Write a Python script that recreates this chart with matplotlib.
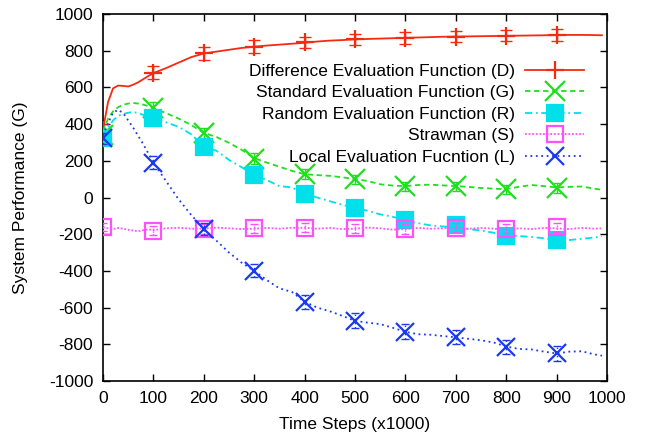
import matplotlib
matplotlib.use("Agg")
import matplotlib.pyplot as plt
import numpy as np

plt.rcParams['font.family'] = ['Liberation Sans', 'DejaVu Sans']
plt.rcParams['axes.unicode_minus'] = False

# ---- data ----
x_line = [0, 10, 20, 30, 40, 50, 60, 70, 80, 90, 100,
          125, 150, 175, 200, 225, 250, 275, 300, 325, 350, 375, 400, 425, 450, 475,
          500, 525, 550, 575, 600, 625, 650, 675, 700, 725, 750, 775, 800, 825, 850,
          875, 900, 925, 950, 975, 990]

d_line = [370, 520, 595, 610, 608, 605, 615, 628, 645, 662, 678,
          705, 735, 765, 785, 795, 805, 815, 822, 828, 833, 838, 843, 850, 855, 858,
          862, 864, 866, 868, 870, 872, 874, 876, 877, 878, 879, 880, 881, 882, 883,
          884, 885, 886, 886, 885, 884]
g_line = [360, 430, 470, 492, 505, 512, 515, 512, 506, 498, 488,
          460, 430, 395, 352, 330, 298, 260, 215, 190, 168, 145, 127, 122, 118, 110,
          100, 90, 72, 65, 62, 68, 70, 66, 62, 58, 52, 48, 45, 58, 68,
          62, 55, 58, 60, 48, 42]
r_line = [330, 380, 420, 445, 455, 462, 466, 460, 450, 442, 433,
          410, 385, 345, 278, 255, 205, 165, 122, 95, 62, 55, 20, 0, -20, -40,
          -55, -72, -92, -105, -125, -140, -152, -158, -162, -172, -180, -192, -205, -210, -215,
          -222, -230, -232, -225, -218, -212]
s_line = [-162, -168, -172, -166, -170, -176, -180, -184, -178, -174, -178,
          -168, -165, -170, -170, -164, -168, -172, -170, -166, -170, -165, -165, -170, -166, -172,
          -170, -164, -168, -175, -172, -166, -170, -168, -165, -170, -166, -170, -175, -168, -172,
          -166, -168, -172, -166, -170, -168]
l_line = [340, 405, 462, 478, 460, 420, 380, 335, 290, 240, 190,
          90, -10, -95, -172, -235, -300, -355, -400, -450, -495, -515, -568, -600, -620, -645,
          -672, -682, -690, -710, -732, -745, -748, -755, -762, -770, -778, -790, -812, -825, -828,
          -840, -850, -840, -838, -855, -862]

x_mark = [0, 100, 200, 300, 400, 500, 600, 700, 800, 900]
d_mark = [370, 680, 785, 822, 845, 862, 870, 877, 881, 886]
g_mark = [340, 490, 350, 210, 128, 100, 62, 62, 44, 52]
r_mark = [322, 435, 275, 122, 18, -58, -123, -148, -208, -230]
s_mark = [-160, -180, -172, -168, -164, -168, -172, -164, -170, -162]
l_mark = [322, 190, -172, -400, -570, -672, -732, -760, -814, -850]
d_err = [30, 35, 35, 35, 32, 30, 32, 30, 30, 32]
g_err = [25, 30, 30, 30, 28, 25, 25, 25, 25, 25]
r_err = [25, 30, 30, 30, 30, 30, 30, 30, 30, 30]
s_err = [20, 25, 25, 25, 25, 25, 25, 25, 25, 25]
l_err = [30, 35, 35, 35, 40, 40, 40, 40, 40, 40]

labels = ["Difference Evaluation Function (D)",
          "Standard Evaluation Function (G)",
          "Random Evaluation Function (R)",
          "Strawman (S)",
          "Local Evaluation Fucntion (L)"]

colors = ['#f52a10', '#1ee01e', '#00e0ea', '#ff50ff', '#1a3aee']
dash_styles = ['-', (0, (3, 2)), (0, (4, 2, 1, 2)), (0, (1, 1)), (0, (1, 2))]
markers = ['+', 'x', 's', 's', 'x']
msizes = [13, 14, 12, 12, 13]
filled = [True, True, True, False, True]
lines_y = [d_line, g_line, r_line, s_line, l_line]
marks_y = [d_mark, g_mark, r_mark, s_mark, l_mark]
errs = [d_err, g_err, r_err, s_err, l_err]

fig = plt.figure(figsize=(6.46, 4.34), dpi=100)
ax = fig.add_axes([103/646, 1-381/434, 504/646, 367/434])

handles = []
for i in range(5):
    c = colors[i]
    lw = 1.3
    ax.plot(x_line, lines_y[i], color=c, linestyle=dash_styles[i], lw=lw, zorder=2 + i)
    eb = ax.errorbar(x_mark, marks_y[i], yerr=errs[i], fmt='none', ecolor=c,
                     elinewidth=1.0, capsize=4 if i == 0 else 3, capthick=1.0,
                     zorder=2 + i)
    if i != 0:
        for lc in eb[2]:
            lc.set_linestyle(dash_styles[i])
    mkw = dict(marker=markers[i], markersize=msizes[i], markeredgewidth=1.6)
    if not filled[i]:
        mkw.update(markerfacecolor='none', markeredgecolor=c)
    ax.plot(x_mark, marks_y[i], linestyle='none', color=c, zorder=3 + i, **mkw)
    h, = ax.plot([], [], color=c, linestyle=dash_styles[i], lw=lw, **mkw)
    handles.append(h)

ax.set_xlim(0, 1000)
ax.set_ylim(-1000, 1000)
ax.set_xticks(np.arange(0, 1001, 100))
ax.set_yticks(np.arange(-1000, 1001, 200))
ax.tick_params(direction='in', top=True, right=True, length=5, width=1,
               labelsize=12.5, pad=7)
for sp in ax.spines.values():
    sp.set_linewidth(1.2)
ax.set_xlabel("Time Steps (x1000)", fontsize=12.5, labelpad=8)
ax.set_ylabel("System Performance (G)", fontsize=12.5, labelpad=15)

leg = ax.legend(handles, labels, loc='upper right', bbox_to_anchor=(0.955, 0.865),
                frameon=False, fontsize=12.5, markerfirst=False, numpoints=1,
                handlelength=3.4, handletextpad=0.6, labelspacing=0.37,
                borderpad=0, borderaxespad=0)

fig.savefig("out.png", dpi=100)
